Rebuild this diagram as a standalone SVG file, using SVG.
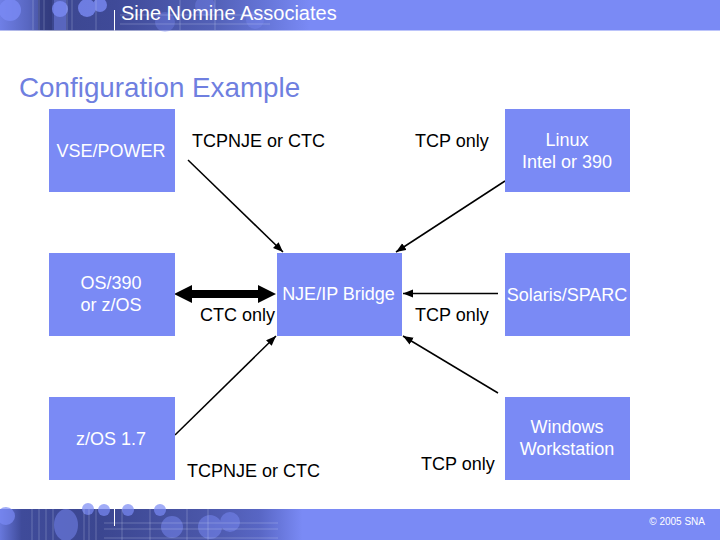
<svg xmlns="http://www.w3.org/2000/svg" width="720" height="540" viewBox="0 0 720 540">
<style>
text{font-family:"Liberation Sans",Arial,sans-serif;font-size:18px;fill:#000}
.c{text-anchor:middle}
.w{fill:#fff}
.box{fill:#7a8af5}
.l{stroke:#000;stroke-width:1.5;fill:none;marker-end:url(#a)}
.lt{stroke:#dfe3fb;stroke-width:.6;opacity:.45;fill:none}
</style>
<defs>
<marker id="a" markerUnits="userSpaceOnUse" markerWidth="11" markerHeight="9" refX="10" refY="4" orient="auto"><path d="M0 0L10 4L0 8z" fill="#000"/></marker>
<linearGradient id="top" x1="0" x2="1" y1="0" y2="0">
<stop offset="0" stop-color="#6f7fe6"/><stop offset=".04" stop-color="#5866c0"/><stop offset=".07" stop-color="#3c4790"/><stop offset=".16" stop-color="#3f4a98"/><stop offset=".3" stop-color="#5361b8"/><stop offset=".36" stop-color="#6373d4"/><stop offset=".43" stop-color="#7a8af5"/><stop offset="1" stop-color="#7a8af5"/>
</linearGradient>
<linearGradient id="bot" x1="0" x2="1" y1="0" y2="0">
<stop offset="0" stop-color="#6878dc"/><stop offset=".03" stop-color="#3f4b9a"/><stop offset=".14" stop-color="#3b4690"/><stop offset=".28" stop-color="#4a56a8"/><stop offset=".36" stop-color="#5866c4"/><stop offset=".42" stop-color="#7a8af5"/><stop offset="1" stop-color="#7a8af5"/>
</linearGradient>
</defs>
<rect width="720" height="540" fill="#fff"/>
<g id="header">
<rect width="720" height="30.500" fill="url(#top)"/>
<g fill="#7a8af5" opacity=".8"><circle cx="10" cy="10" r="11"/><circle cx="60" cy="9" r="8"/><circle cx="87" cy="8" r="9"/><circle cx="100" cy="5" r="7"/></g>
<rect x="38" y="0" width="14" height="30" fill="#2f3878" opacity=".7"/>
<rect x="54" y="0" width="12" height="30" fill="#7a8af5" opacity=".45"/>
<g fill="#7a8af5" opacity=".35"><circle cx="165" cy="22" r="10"/><circle cx="205" cy="6" r="10"/><circle cx="255" cy="20" r="9"/></g>
<path class="lt" d="M33 0V30M39 0V30M44 0V30M67 0V30M72 0V30M96 0V30M120 15H270M120 24H270M180 0V30M215 0V30"/>
<line x1="114.500" y1="10" x2="114.500" y2="30.500" stroke="#fff" stroke-width="1"/>
<text class="w" x="121" y="20" style="font-size:20px">Sine Nomine Associates</text>
</g>
<g id="footer">
<rect y="509" width="720" height="31" fill="url(#bot)"/>
<g fill="#7a8af5" opacity=".7"><circle cx="6" cy="516" r="9"/><circle cx="88" cy="509" r="6"/><circle cx="104" cy="510" r="6"/><circle cx="128" cy="510" r="6"/><circle cx="160" cy="510" r="6"/></g>
<g fill="#7a8af5" opacity=".5"><ellipse cx="66" cy="525" rx="12" ry="16"/><circle cx="172" cy="527" r="11"/><circle cx="210" cy="527" r="12"/><circle cx="230" cy="522" r="10"/></g>
<path class="lt" d="M32 509V540M39 509V540M46 509V540M53 509V540M84 509V540M89 509V540M96 509V540M104 523H278M104 529H278M104 538H278M122 509V540M150 509V540M187 509V540M208 509V540"/>
<line x1="114.500" y1="509" x2="114.500" y2="526" stroke="#fff" stroke-width="1"/>
<text class="w" x="705" y="525" text-anchor="end" style="font-size:10px">© 2005 SNA</text>
</g>
<text x="19" y="97" style="font-size:27.800px;fill:#6f7fe0">Configuration Example</text>
<g id="connectors">
<line class="l" x1="188" y1="160" x2="283" y2="252"/>
<line class="l" x1="505" y1="181" x2="396" y2="252"/>
<line class="l" x1="498" y1="293.500" x2="403" y2="293.500"/>
<line class="l" x1="498" y1="393" x2="403" y2="336"/>
<line class="l" x1="175" y1="435" x2="276" y2="336"/>
<path d="M174 294L192 285V290H258V285L276 294L258 303V298H192V303z" fill="#000"/>
</g>
<g id="vse"><rect class="box" x="49" y="109" width="126" height="83"/><text class="c w" x="111" y="157">VSE/POWER</text></g>
<g id="os390"><rect class="box" x="49" y="253" width="126" height="83"/><text class="c w" x="111" y="289">OS/390</text><text class="c w" x="111" y="311">or z/OS</text></g>
<g id="zos"><rect class="box" x="49" y="397" width="126" height="83"/><text class="c w" x="111" y="445">z/OS 1.7</text></g>
<g id="bridge"><rect class="box" x="277" y="253" width="125" height="83"/><text class="c w" x="338.500" y="300">NJE/IP Bridge</text></g>
<g id="linux"><rect class="box" x="505" y="109" width="125" height="83"/><text class="c w" x="567" y="146">Linux</text><text class="c w" x="567" y="168">Intel or 390</text></g>
<g id="solaris"><rect class="box" x="505" y="253" width="125" height="83"/><text class="c w" x="567" y="301">Solaris/SPARC</text></g>
<g id="windows"><rect class="box" x="505" y="397" width="125" height="83"/><text class="c w" x="567" y="433">Windows</text><text class="c w" x="567" y="455">Workstation</text></g>
<g id="labels">
<text x="192" y="147">TCPNJE or CTC</text>
<text x="415" y="147">TCP only</text>
<text x="200" y="321">CTC only</text>
<text x="415" y="321">TCP only</text>
<text x="187" y="477">TCPNJE or CTC</text>
<text x="421" y="470">TCP only</text>
</g>
</svg>
